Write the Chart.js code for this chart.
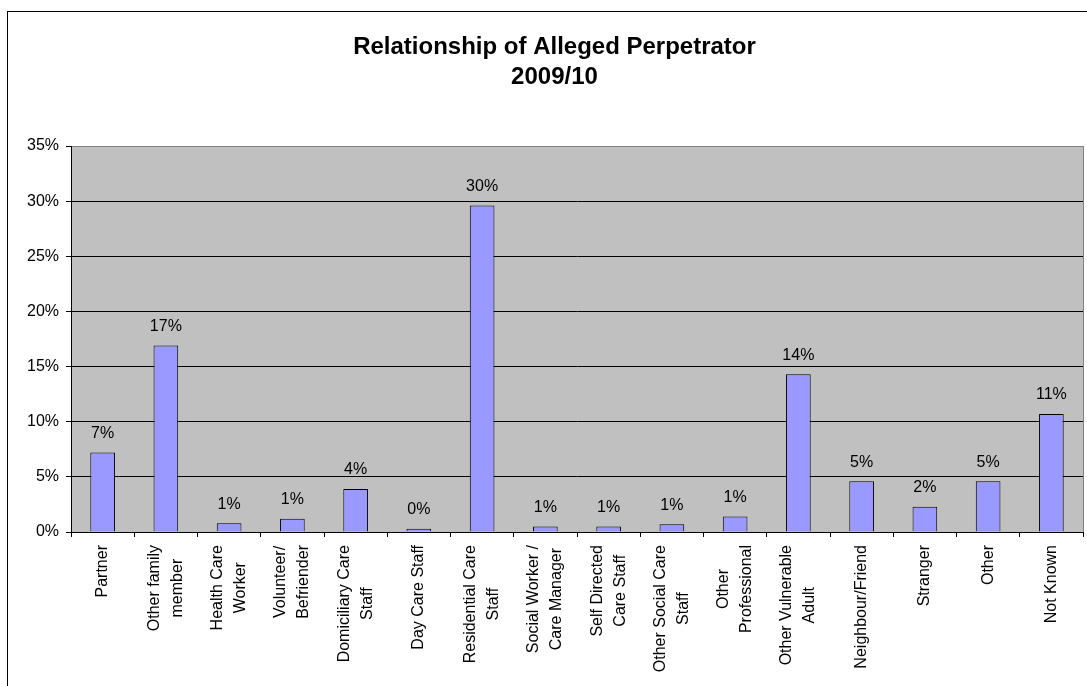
<!DOCTYPE html>
<html>
<head>
<meta charset="utf-8">
<script src="https://cdn.jsdelivr.net/npm/chart.js@4/dist/chart.umd.min.js"></script>
<style>
  html, body { margin: 0; padding: 0; background: #fff; overflow: hidden; }
  #wrap { width: 1087px; height: 686px; position: relative; }
</style>
</head>
<body>
<div id="wrap"><canvas id="c" width="1087" height="686"></canvas></div>
<script>
const chartTitle = ['Relationship of Alleged Perpetrator', '2009/10'];
const categories = [
  ['Partner'],
  ['Other family', 'member'],
  ['Health Care', 'Worker'],
  ['Volunteer/', 'Befriender'],
  ['Domiciliary Care', 'Staff'],
  ['Day Care Staff'],
  ['Residential Care', 'Staff'],
  ['Social Worker /', 'Care Manager'],
  ['Self Directed', 'Care Staff'],
  ['Other Social Care', 'Staff'],
  ['Other', 'Professional'],
  ['Other Vulnerable', 'Adult'],
  ['Neighbour/Friend'],
  ['Stranger'],
  ['Other'],
  ['Not Known']
];
const percentValues = [7.2, 16.9, 0.8, 1.2, 3.9, 0.3, 29.6, 0.5, 0.5, 0.7, 1.4, 14.3, 4.6, 2.3, 4.6, 10.7];
const yTicks = [0, 5, 10, 15, 20, 25, 30, 35];

const FONT = '"Liberation Sans", Arial, sans-serif';

const frameAndBg = {
  id: 'frameAndBg',
  beforeDraw(chart) {
    const ctx = chart.ctx;
    const a = chart.chartArea;
    ctx.save();
    ctx.fillStyle = '#fff';
    ctx.fillRect(0, 0, chart.width, chart.height);
    ctx.strokeStyle = '#000';
    ctx.lineWidth = 1;
    ctx.strokeRect(7.5, 11.5, 2000, 2000);
    ctx.fillStyle = '#C0C0C0';
    ctx.fillRect(a.left, a.top, a.right - a.left, a.bottom - a.top);
    ctx.strokeStyle = '#808080';
    ctx.strokeRect(Math.round(a.left) + 0.5, Math.round(a.top) + 0.5, Math.round(a.right - a.left), Math.round(a.bottom - a.top));
    ctx.restore();
  }
};

const valueLabels = {
  id: 'valueLabels',
  afterDatasetsDraw(chart) {
    const ctx = chart.ctx;
    const meta = chart.getDatasetMeta(0);
    ctx.save();
    ctx.font = '16px ' + FONT;
    ctx.fillStyle = '#000';
    ctx.textAlign = 'center';
    ctx.textBaseline = 'alphabetic';
    meta.data.forEach((el, i) => {
      ctx.fillText(Math.round(percentValues[i]) + '%', el.x, el.y - 14.5);
    });
    ctx.restore();
  }
};

const xLabels = {
  id: 'xLabels',
  afterDraw(chart) {
    const ctx = chart.ctx;
    const xs = chart.scales.x;
    const top = xs.top + 13;
    const lh = 23;
    ctx.save();
    ctx.font = '16px ' + FONT;
    ctx.fillStyle = '#000';
    ctx.textAlign = 'center';
    ctx.textBaseline = 'middle';
    categories.forEach((lines, i) => {
      const x = xs.getPixelForValue(i);
      const wmax = Math.max(...lines.map(l => ctx.measureText(l).width));
      ctx.save();
      ctx.translate(x, top + wmax / 2);
      ctx.rotate(-Math.PI / 2);
      const n = lines.length;
      lines.forEach((l, j) => {
        ctx.fillText(l, 0, (j - (n - 1) / 2) * lh);
      });
      ctx.restore();
    });
    ctx.restore();
  }
};

new Chart(document.getElementById('c'), {
  type: 'bar',
  data: {
    labels: categories.map(l => l.join(' ')),
    datasets: [{
      data: percentValues,
      backgroundColor: '#9999FF',
      borderColor: '#000',
      borderWidth: 1,
      barPercentage: 0.39,
      categoryPercentage: 1
    }]
  },
  options: {
    responsive: false,
    animation: false,
    devicePixelRatio: 1,
    layout: { padding: { left: 26, right: 4, top: 0, bottom: 0 } },
    plugins: {
      legend: { display: false },
      tooltip: { enabled: false },
      title: {
        display: true,
        text: chartTitle,
        color: '#000',
        font: { family: FONT, size: 24, weight: 'bold', lineHeight: 1.25 },
        padding: { top: 32, bottom: 54 }
      }
    },
    scales: {
      x: {
        grid: { display: true, drawOnChartArea: false, drawTicks: true, tickLength: 5, color: '#000', offset: true },
        border: { display: true, color: '#000', width: 1 },
        ticks: { display: false },
        afterFit(s) { s.height = 154; }
      },
      y: {
        min: 0,
        max: 35,
        afterBuildTicks(s) { s.ticks = yTicks.map(v => ({ value: v })); },
        grid: {
          color: c => (c.tick && c.tick.value === 35) ? '#808080' : '#000',
          tickColor: '#000',
          tickLength: 5,
          drawTicks: true
        },
        border: { display: true, color: '#000', width: 1 },
        ticks: {
          padding: 7,
          color: '#000',
          font: { family: FONT, size: 16 },
          callback: v => v + '%'
        },
        afterFit(s) { s.width = 45; }
      }
    }
  },
  plugins: [frameAndBg, valueLabels, xLabels]
});
</script>
</body>
</html>
